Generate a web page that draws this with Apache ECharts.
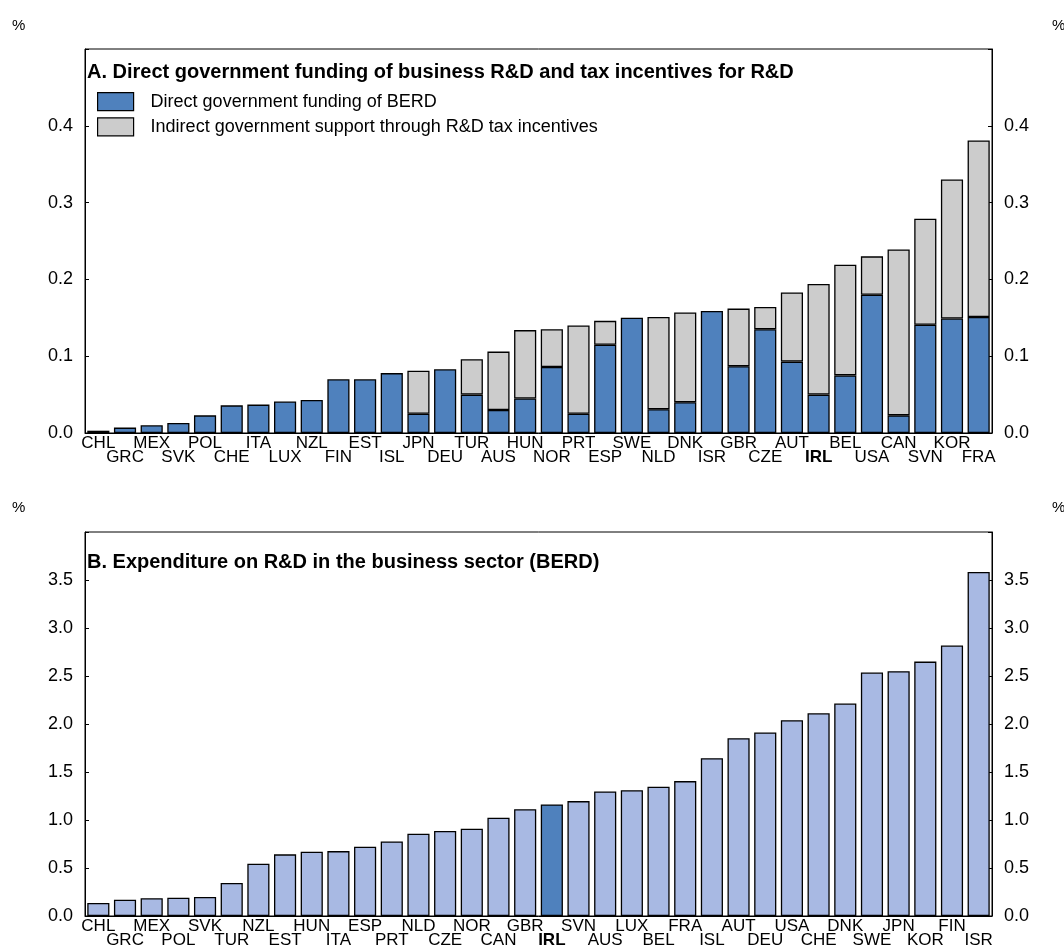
<!DOCTYPE html>
<html>
<head>
<meta charset="utf-8">
<script src="https://cdn.jsdelivr.net/npm/echarts@6/dist/echarts.min.js"></script>
<style>
html,body{margin:0;padding:0;background:#fff;}
#chart{width:1064px;height:952px;}
</style>
</head>
<body>
<div id="chart"></div>
<script>
// Panel A data
const countriesA = ['CHL','GRC','MEX','SVK','POL','CHE','ITA','LUX','NZL','FIN','EST','ISL','JPN','DEU','TUR','AUS','HUN','NOR','PRT','ESP','SWE','NLD','DNK','ISR','GBR','CZE','AUT','IRL','BEL','USA','CAN','SVN','KOR','FRA'];
const directA   = [0.003,0.007,0.010,0.013,0.023,0.036,0.037,0.041,0.043,0.070,0.070,0.078,0.025,0.083,0.050,0.030,0.045,0.086,0.025,0.115,0.150,0.031,0.040,0.159,0.087,0.135,0.093,0.050,0.075,0.180,0.023,0.141,0.149,0.151];
const indirectA = [null,null,null,null,null,null,null,null,null,null,null,null,0.056,null,0.046,0.076,0.089,0.049,0.115,0.031,null,0.120,0.117,null,0.075,0.029,0.090,0.144,0.144,0.050,0.216,0.138,0.181,0.230];
const ticksA = [0, 0.1, 0.2, 0.3, 0.4];

// Panel B data
const countriesB = ['CHL','GRC','MEX','POL','SVK','TUR','NZL','EST','HUN','ITA','ESP','PRT','NLD','CZE','NOR','CAN','GBR','IRL','SVN','AUS','LUX','BEL','FRA','ISL','AUT','DEU','USA','CHE','DNK','SWE','JPN','KOR','FIN','ISR'];
const berdB = [0.135,0.17,0.185,0.19,0.198,0.344,0.545,0.642,0.67,0.676,0.722,0.777,0.857,0.885,0.909,1.024,1.113,1.162,1.197,1.298,1.311,1.346,1.405,1.644,1.852,1.912,2.04,2.112,2.213,2.536,2.55,2.65,2.817,3.584];
const ticksB = [0, 0.5, 1.0, 1.5, 2.0, 2.5, 3.0, 3.5];

const highlight = 'IRL';
const FONT = "'Liberation Sans', Arial, Helvetica, sans-serif";
const BLUE = '#4F81BD', GREY = '#CCCCCC', LIGHT = '#A8B9E3';

const chart = echarts.init(document.getElementById('chart'), null, {renderer:'canvas'});

function xLabelFormatter(value, idx) {
  const txt = value === highlight ? '{b|' + value + '}' : '{n|' + value + '}';
  return idx % 2 === 1 ? '{n| }\n' + txt : txt;
}
function xAxisCfg(gridIndex, cats) {
  return {
    type:'category', gridIndex, data:cats,
    axisLine:{show:true, lineStyle:{color:'#000', width:1}},
    axisTick:{show:false},
    axisLabel:{
      interval:0, margin:3, color:'#000', fontFamily:FONT, fontSize:17,
      formatter:xLabelFormatter,
      rich:{
        n:{fontFamily:FONT, fontSize:17, lineHeight:14, color:'#000'},
        b:{fontFamily:FONT, fontSize:17, lineHeight:14, color:'#000', fontWeight:'bold'}
      }
    }
  };
}
function yAxisCfg(gridIndex, pos, max, interval, ticks) {
  const top = ticks[ticks.length-1];
  return {
    type:'value', gridIndex, position:pos, min:0, max, interval,
    splitLine:{show:false},
    axisLine:{show:true, lineStyle:{color:'#000', width:1}},
    axisTick:{show:true, inside:true, length:4, lineStyle:{color:'#000'}},
    axisLabel:{
      color:'#000', fontFamily:FONT, fontSize:18, margin:12,
      formatter:function(v){ return v > top + 1e-9 ? '' : v.toFixed(1); }
    }
  };
}

const pct = (left, top) => ({text:'%', left, top, padding:0,
  textStyle:{fontFamily:FONT, fontSize:15, fontWeight:'normal', color:'#000'}});

const option = {
  backgroundColor:'#fff',
  animation:false,
  textStyle:{fontFamily:FONT},
  title:[
    {text:'A. Direct government funding of business R&D and tax incentives for R&D', left:87, top:62, padding:0,
     textStyle:{fontFamily:FONT, fontSize:20, fontWeight:'bold', color:'#000'}},
    {text:'B. Expenditure on R&D in the business sector (BERD)', left:87, top:552, padding:0,
     textStyle:{fontFamily:FONT, fontSize:20, fontWeight:'bold', color:'#000'}},
    pct(12, 18), pct(1052, 18), pct(12, 500), pct(1052, 500)
  ],
  legend:{
    data:['Direct government funding of BERD','Indirect government support through R&D tax incentives'],
    orient:'vertical', left:97, top:92, padding:0, itemWidth:36, itemHeight:18, itemGap:6,
    icon:'rect',
    itemStyle:{borderColor:'#000', borderWidth:1.2},
    textStyle:{fontFamily:FONT, fontSize:18, color:'#000', padding:[0,0,0,12]},
    selectedMode:false
  },
  grid:[
    {left:85, top:49, width:907, height:384, show:true, borderColor:'#000', borderWidth:1, backgroundColor:'transparent'},
    {left:85, top:532, width:907, height:384, show:true, borderColor:'#000', borderWidth:1, backgroundColor:'transparent'}
  ],
  xAxis:[ xAxisCfg(0, countriesA), xAxisCfg(1, countriesB) ],
  yAxis:[
    yAxisCfg(0,'left',0.5,0.1,ticksA), yAxisCfg(0,'right',0.5,0.1,ticksA),
    yAxisCfg(1,'left',4,0.5,ticksB), yAxisCfg(1,'right',4,0.5,ticksB)
  ],
  series:[
    {name:'Direct government funding of BERD', type:'bar', stack:'a', xAxisIndex:0, yAxisIndex:0,
     data:directA, barCategoryGap:'17%',
     itemStyle:{color:BLUE, borderColor:'#000', borderWidth:1.3}},
    {name:'Indirect government support through R&D tax incentives', type:'bar', stack:'a', xAxisIndex:0, yAxisIndex:0,
     data:indirectA, barCategoryGap:'17%',
     itemStyle:{color:GREY, borderColor:'#000', borderWidth:1.3}},
    {name:'BERD', type:'bar', xAxisIndex:1, yAxisIndex:2, barCategoryGap:'17%',
     data:berdB.map((v,i)=>({value:v, itemStyle:{color: countriesB[i]===highlight ? BLUE : LIGHT}})),
     itemStyle:{borderColor:'#000', borderWidth:1.3}}
  ]
};
chart.setOption(option);
</script>
</body>
</html>
